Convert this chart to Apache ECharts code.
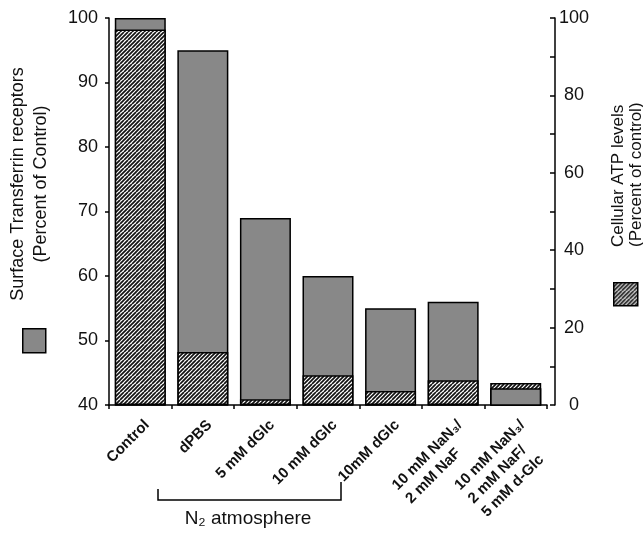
<!DOCTYPE html>
<html>
<head>
    <meta charset="utf-8">
    <title>Transferrin receptors / ATP</title>
    <script src="https://cdn.jsdelivr.net/npm/echarts@6/dist/echarts.min.js"></script>
    <style>
        html, body { margin: 0; padding: 0; background: #fff; }
    </style>
</head>
<body>
<div id="main" style="width: 643px;height:533px;"></div>
<script type="text/javascript">
    // data
    const categories = ['Control', 'dPBS', '5 mM dGlc', '10 mM dGlc', '10mM dGlc',
        '10 mM NaN₃/\n2 mM NaF', '10 mM NaN₃/\n2 mM NaF/\n5 mM d-Glc'];
    const tfrValues = [100, 95, 69, 60, 55, 56, 42.6];   // left axis, percent of control
    const atpValues = [97, 13.7, 1.5, 7.7, 3.6, 6.4, 5.7]; // right axis, percent of control
    const tfrTicks = [40, 100, 10];
    const atpTicks = [0, 100, 20];

    const tfrName = 'Surface Transferrin receptors';
    const atpName = 'Cellular ATP levels';
    const font = '"Liberation Sans", Arial, Helvetica, sans-serif';

    // hatch pattern for the ATP bars
    function hatch() {
        const c = document.createElement('canvas');
        c.width = 8; c.height = 8;
        const g = c.getContext('2d');
        g.fillStyle = '#fff';
        g.fillRect(0, 0, 8, 8);
        g.strokeStyle = '#111';
        g.lineWidth = 1.7;
        for (let x0 = -8; x0 <= 8; x0 += 4) {
            g.beginPath();
            g.moveTo(x0, 8);
            g.lineTo(x0 + 8, 0);
            g.stroke();
        }
        return c;
    }
    const hatchFill = { image: hatch(), repeat: 'repeat' };
    const gray = '#888888';

    // where the gray bar is shorter than the hatched one it is drawn in front
    const scale = (tfrTicks[1] - tfrTicks[0]) / (atpTicks[1] - atpTicks[0]);
    const tfrFront = tfrValues.map((v, i) => v < tfrTicks[0] + atpValues[i] * scale ? v : '-');

    let myChart = echarts.init(document.getElementById('main'));

    const barStyle = { borderColor: '#000', borderWidth: 1.5 };

    myChart.setOption({
        animation: false,
        textStyle: { fontFamily: font },
        grid: { left: 109, top: 18, width: 438, bottom: 128 },
        legend: [
            {
                data: [tfrName], left: 22, top: 328, itemWidth: 23, itemHeight: 24, padding: 0,
                icon: 'rect', selectedMode: false, formatter: () => '',
                itemStyle: { borderColor: '#000', borderWidth: 1.5 }
            },
            {
                data: [atpName], left: 613, top: 282, itemWidth: 24, itemHeight: 23, padding: 0,
                icon: 'rect', selectedMode: false, formatter: () => '',
                itemStyle: { borderColor: '#000', borderWidth: 1.5 }
            }
        ],
        xAxis: {
            type: 'category',
            data: categories,
            axisLine: { lineStyle: { color: '#000', width: 1.5 } },
            axisTick: { show: true, length: 4, lineStyle: { color: '#000', width: 1.5 } },
            axisLabel: {
                interval: 0,
                rotate: 45,
                margin: 11,
                verticalAlign: 'top',
                color: '#111',
                fontSize: 15,
                fontWeight: 'bold',
                lineHeight: 19,
                formatter: v => v.split('\n').map(s => '{l|' + s + '}').join('\n'),
                rich: { l: { align: 'left', fontSize: 15, fontWeight: 'bold', color: '#111', lineHeight: 19 } }
            }
        },
        yAxis: [
            {
                type: 'value',
                min: tfrTicks[0], max: tfrTicks[1], interval: tfrTicks[2],
                position: 'left',
                splitLine: { show: false },
                axisLine: { show: true, lineStyle: { color: '#000', width: 1.5 } },
                axisTick: { show: true, length: 4, lineStyle: { color: '#000', width: 1.5 } },
                axisLabel: { color: '#111', fontSize: 18, margin: 11 }
            },
            {
                type: 'value',
                min: atpTicks[0], max: atpTicks[1], interval: atpTicks[2],
                position: 'right',
                offset: 8,
                splitLine: { show: false },
                axisLine: { show: true, lineStyle: { color: '#000', width: 1.5 } },
                axisTick: { show: true, inside: true, length: 5, lineStyle: { color: '#000', width: 1.5 } },
                minorTick: { show: true, splitNumber: 2, length: 5, lineStyle: { color: '#000', width: 1.5 } },
                axisLabel: { color: '#111', fontSize: 18, margin: 19, align: 'center' }
            }
        ],
        series: [
            {
                name: tfrName, type: 'bar', yAxisIndex: 0, data: tfrValues,
                barWidth: 51, barGap: '-100%',
                itemStyle: Object.assign({ color: gray }, barStyle)
            },
            {
                name: atpName, type: 'bar', yAxisIndex: 1, data: atpValues,
                barWidth: 51, barGap: '-100%',
                itemStyle: Object.assign({ color: hatchFill }, barStyle)
            },
            {
                name: tfrName, type: 'bar', yAxisIndex: 0, data: tfrFront,
                barWidth: 51, barGap: '-100%',
                itemStyle: Object.assign({ color: gray }, barStyle)
            }
        ],
        graphic: [
            {
                type: 'text', x: 30, y: 184, rotation: Math.PI / 2,
                style: {
                    text: tfrName + '\n(Percent of Control)',
                    align: 'center', verticalAlign: 'middle',
                    font: '18px ' + font, lineHeight: 23, fill: '#111'
                }
            },
            {
                type: 'text', x: 627, y: 247, rotation: Math.PI / 2,
                style: {
                    text: atpName + '\n(Percent of control)',
                    align: 'left', verticalAlign: 'middle',
                    font: '17px ' + font, lineHeight: 18, fill: '#111'
                }
            },
            {
                type: 'polyline',
                shape: { points: [[158, 489], [158, 500], [341, 500], [341, 482]] },
                style: { stroke: '#000', lineWidth: 1.5, fill: null }
            },
            {
                type: 'text', x: 248, y: 519,
                style: {
                    text: 'N₂ atmosphere',
                    align: 'center', verticalAlign: 'middle',
                    font: '19px ' + font, fill: '#111'
                }
            }
        ]
    });
</script>
</body>
</html>
